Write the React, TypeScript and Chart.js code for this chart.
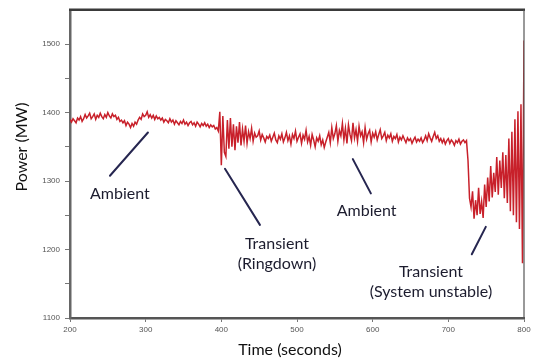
import React, { useEffect, useRef } from "react";
import { Chart, registerables } from "chart.js";

Chart.register(...registerables);

// Sampling of the power trace
const T_START = 200;
const T_STEP = 2;

// 200–398 s : ambient
const ambientEarly = [
  1390, 1386, 1391, 1388, 1385, 1392, 1389, 1394, 1387, 1391,
  1397, 1392, 1395, 1399, 1391, 1394, 1398, 1390, 1396, 1393,
  1399, 1394, 1391, 1397, 1393, 1400, 1395, 1392, 1398, 1394,
  1396, 1390, 1393, 1387, 1389, 1385, 1388, 1381, 1386, 1383,
  1378, 1384, 1380, 1386, 1383, 1389, 1393, 1390, 1398, 1394,
  1396, 1401, 1393, 1397, 1392, 1396, 1390, 1395, 1391, 1393,
  1389, 1392, 1386, 1390, 1388, 1385, 1391, 1386, 1389, 1383,
  1388, 1385, 1382, 1387, 1384, 1389, 1383, 1386, 1381, 1385,
  1387, 1382, 1385, 1380, 1386, 1383, 1379, 1384, 1381, 1385,
  1380, 1383, 1378, 1382, 1379, 1381, 1376, 1378, 1373, 1401,
];

// 400–460 s : ringdown
const ringdown = [
  1323, 1395, 1342, 1336, 1389, 1347, 1392, 1350, 1383, 1345,
  1380, 1356, 1386, 1352, 1376, 1358, 1381, 1355, 1372, 1362,
  1377, 1358, 1370, 1364, 1366, 1373, 1360, 1368, 1363, 1357,
  1365,
];

// 462–724 s : ambient
const ambientLate = [
  1362, 1367, 1358, 1364, 1370, 1360, 1356, 1366, 1361, 1369,
  1357, 1363, 1371, 1359, 1366, 1354, 1368, 1362, 1373, 1358,
  1364, 1369, 1355, 1367, 1361, 1374, 1357, 1365, 1352, 1368,
  1360, 1350, 1363, 1358, 1366, 1353, 1360, 1349, 1357, 1364,
  1371, 1356, 1378, 1362, 1369, 1381, 1358, 1374, 1366, 1384,
  1360, 1377, 1355, 1382, 1368, 1359, 1385, 1363, 1375, 1358,
  1380, 1366, 1372, 1356, 1378, 1361, 1369, 1374, 1357, 1370,
  1364, 1372, 1360, 1368, 1375, 1362, 1366, 1371, 1359, 1367,
  1363, 1369, 1358, 1365, 1362, 1368, 1357, 1364, 1360, 1366,
  1361, 1356, 1363, 1359, 1362, 1355, 1360, 1364, 1357, 1361,
  1358, 1363, 1356, 1360, 1366, 1359, 1369, 1363, 1358, 1365,
  1371, 1362, 1366, 1358, 1362, 1356, 1361, 1354, 1359, 1362,
  1355, 1360, 1357, 1352, 1359, 1356, 1361, 1354, 1358, 1360,
  1356, 1359,
];

// 726–800 s : system unstable
const unstable = [
  1330, 1275, 1262, 1285, 1245, 1272, 1250, 1290, 1252, 1270,
  1246, 1295, 1262, 1305, 1270, 1322, 1276, 1312, 1284, 1335,
  1280, 1330, 1290, 1342, 1275, 1338, 1268, 1362, 1256, 1372,
  1250, 1390, 1240, 1402, 1230, 1412, 1180, 1505,
];

const xTicks = [200, 300, 400, 500, 600, 700, 800];
const yTicks = [1100, 1150, 1200, 1250, 1300, 1350, 1400, 1450, 1500];
const yLabelled = [1100, 1200, 1300, 1400, 1500];

const xTitle = "Time (seconds)";
const yTitle = "Power (MW)";

// Annotation texts (data coordinates: time, power)
const annotationTexts = [
  { lines: ["Ambient"], t: 266, v: 1282 },
  { lines: ["Transient", "(Ringdown)"], t: 473.5, v: 1209 },
  { lines: ["Ambient"], t: 592, v: 1256 },
  { lines: ["Transient", "(System unstable)"], t: 677, v: 1167 },
];
// Annotation pointer lines (t1, v1, t2, v2)
const annotationLines = [
  [252.8, 1307.7, 303, 1370.8],
  [404.8, 1317.8, 451, 1236],
  [573.8, 1332, 597.6, 1282],
  [749.5, 1233, 731, 1193],
];

const powerValues = [...ambientEarly, ...ringdown, ...ambientLate, ...unstable];

const TEXT_FONT = "Lato, 'Open Sans', sans-serif";

const framePlugin = {
  id: "frameAndNotes",
  afterDraw(chart: any) {
    const { ctx, chartArea, scales } = chart;
    const xs = scales.x;
    const ys = scales.y;
    ctx.save();
    // top border
    ctx.strokeStyle = "#3a3a3a";
    ctx.lineWidth = 2.5;
    ctx.beginPath();
    ctx.moveTo(chartArea.left - 1, chartArea.top);
    ctx.lineTo(chartArea.right + 1, chartArea.top);
    ctx.stroke();
    // right border
    ctx.strokeStyle = "#555";
    ctx.lineWidth = 1.2;
    ctx.beginPath();
    ctx.moveTo(chartArea.right, chartArea.top);
    ctx.lineTo(chartArea.right, chartArea.bottom);
    ctx.stroke();

    // pointer lines
    ctx.strokeStyle = "#262650";
    ctx.lineWidth = 2;
    ctx.lineCap = "round";
    for (const [t1, v1, t2, v2] of annotationLines) {
      ctx.beginPath();
      ctx.moveTo(xs.getPixelForValue(t1), ys.getPixelForValue(v1));
      ctx.lineTo(xs.getPixelForValue(t2), ys.getPixelForValue(v2));
      ctx.stroke();
    }
    // annotation texts
    ctx.fillStyle = "#1c1c2e";
    ctx.font = `16px ${TEXT_FONT}`;
    ctx.textAlign = "center";
    ctx.textBaseline = "middle";
    for (const a of annotationTexts) {
      const x = xs.getPixelForValue(a.t);
      const y = ys.getPixelForValue(a.v);
      a.lines.forEach((ln, i) => ctx.fillText(ln, x, y + i * 20));
    }
    // axis titles
    ctx.fillStyle = "#111";
    ctx.font = `16px ${TEXT_FONT}`;
    ctx.fillText(xTitle, 290, 350);
    ctx.translate(22, 147);
    ctx.rotate(-Math.PI / 2);
    ctx.fillText(yTitle, 0, 0);
    ctx.restore();
  },
};

export default function App() {
  const ref = useRef<HTMLCanvasElement | null>(null);

  useEffect(() => {
    document.body.style.margin = "0";
    const canvas = ref.current;
    if (!canvas) return;
    const data = powerValues.map((v, i) => ({ x: T_START + i * T_STEP, y: v }));
    const chart = new Chart(canvas, {
      type: "line",
      data: {
        datasets: [
          {
            data,
            borderColor: "#c8202a",
            borderWidth: 1.5,
            pointRadius: 0,
            tension: 0,
            fill: false,
          },
        ],
      },
      options: {
        animation: false,
        responsive: false,
        maintainAspectRatio: false,
        layout: { padding: { left: 0, top: 4, right: 19, bottom: 0 } },
        plugins: { legend: { display: false }, tooltip: { enabled: false } },
        scales: {
          x: {
            type: "linear",
            min: 200,
            max: 800,
            afterBuildTicks: (s: any) => {
              s.ticks = xTicks.map((v) => ({ value: v }));
            },
            afterFit: (s: any) => {
              s.height = 46;
            },
            grid: { display: true, drawOnChartArea: false, drawTicks: true, tickLength: 4, color: "#777" },
            border: { display: true, color: "#555", width: 2.5 },
            ticks: {
              color: "#555",
              font: { size: 8, family: "'Liberation Sans', Arial, sans-serif" },
              padding: 3,
              maxRotation: 0,
              autoSkip: false,
            },
          },
          y: {
            type: "linear",
            min: 1100,
            max: 1550,
            afterBuildTicks: (s: any) => {
              s.ticks = yTicks.map((v) => ({ value: v }));
            },
            afterFit: (s: any) => {
              s.width = 70;
            },
            grid: { display: true, drawOnChartArea: false, drawTicks: true, tickLength: 5, color: "#777" },
            border: { display: true, color: "#666", width: 2.5 },
            ticks: {
              color: "#555",
              font: { size: 8, family: "'Liberation Sans', Arial, sans-serif" },
              padding: 5,
              autoSkip: false,
              callback: (v: any) => (yLabelled.includes(Number(v)) ? String(v) : ""),
            },
          },
        },
      },
      plugins: [framePlugin],
    });
    return () => chart.destroy();
  }, []);

  return (
    <div style={{ position: "fixed", left: 0, top: 0, width: 543, height: 364, background: "#fff" }}>
      <canvas ref={ref} width={543} height={364} style={{ width: 543, height: 364 }} />
    </div>
  );
}
